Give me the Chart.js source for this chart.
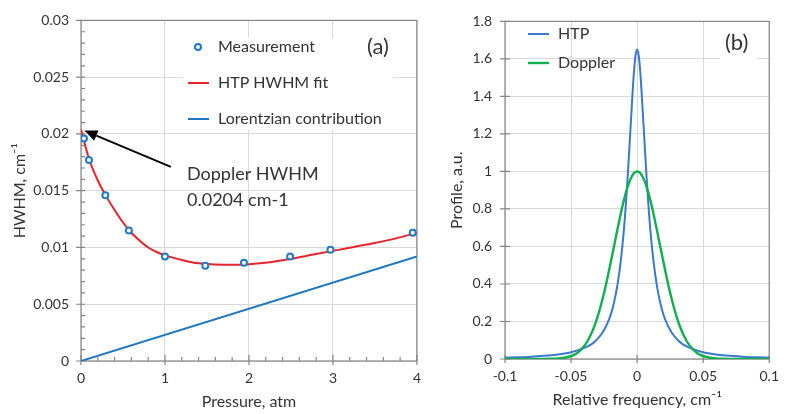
<!DOCTYPE html>
<html>
<head>
<meta charset="utf-8">
<script src="https://cdn.jsdelivr.net/npm/chart.js@4.4.1/dist/chart.umd.min.js"></script>
<style>
  html, body { margin: 0; padding: 0; background: #fff; }
  #wrap { position: relative; width: 788px; height: 414px; }
  canvas { position: absolute; top: 0; }
  #left { left: 0; }
  #right { left: 430px; }
</style>
</head>
<body>
<div id="wrap">
  <canvas id="left" width="430" height="414"></canvas>
  <canvas id="right" width="358" height="414"></canvas>
</div>
<script>
// panel (a): HWHM against pressure
const measPressure = [0.035, 0.095, 0.29, 0.57, 1.0, 1.48, 1.94, 2.49, 2.97, 3.95];
const measHwhm = [0.0196, 0.0177, 0.0146, 0.0115, 0.0092, 0.0084, 0.00865, 0.0092, 0.0098, 0.0113];
const fitPressure = [0, 0.05, 0.1, 0.2, 0.3, 0.4, 0.5, 0.6, 0.7, 0.8, 0.9, 1.0, 1.2, 1.4, 1.6, 1.8, 2.0, 2.25, 2.5, 2.75, 3.0, 3.25, 3.5, 3.75, 4.0];
const fitHwhm = [0.0204, 0.0190, 0.0177, 0.0159, 0.0145, 0.0133, 0.0122, 0.0113, 0.0106, 0.0100, 0.0096, 0.0093, 0.0089, 0.0086, 0.0085, 0.00848, 0.00853, 0.0087, 0.0090, 0.00935, 0.0097, 0.01005, 0.0104, 0.0108, 0.0113];
const lorPressure = [0, 4];
const lorHwhm = [0, 0.0092];
const pressureTicks = [0, 1, 2, 3, 4];
const hwhmTicks = [0, 0.005, 0.01, 0.015, 0.02, 0.025, 0.03];

// panel (b): line profiles
const freqX = [-0.1, -0.09, -0.08, -0.07, -0.065, -0.06, -0.055, -0.05, -0.0475, -0.045, -0.0425, -0.04, -0.0375, -0.035, -0.0325, -0.03, -0.0275, -0.025, -0.0225, -0.02, -0.0175, -0.015, -0.0125, -0.01, -0.0075, -0.005, -0.0025, -0.00125,
  0, 0.00125, 0.0025, 0.005, 0.0075, 0.01, 0.0125, 0.015, 0.0175, 0.02, 0.0225, 0.025, 0.0275, 0.03, 0.0325, 0.035, 0.0375, 0.04, 0.0425, 0.045, 0.0475, 0.05, 0.055, 0.06, 0.065, 0.07, 0.08, 0.09, 0.1];
const htpProfile = [0.007, 0.009, 0.012, 0.017, 0.020, 0.024, 0.029, 0.036, 0.041, 0.046, 0.052, 0.059, 0.067, 0.077, 0.090, 0.107, 0.128, 0.155, 0.19, 0.235, 0.30, 0.39, 0.515, 0.69, 0.93, 1.23, 1.52, 1.615,
  1.65, 1.615, 1.52, 1.23, 0.93, 0.69, 0.515, 0.39, 0.30, 0.235, 0.19, 0.155, 0.128, 0.107, 0.090, 0.077, 0.067, 0.059, 0.052, 0.046, 0.041, 0.036, 0.029, 0.024, 0.020, 0.017, 0.012, 0.009, 0.007];
const dopplerProfile = [0, 0, 0, 0.0003, 0.001, 0.0025, 0.0065, 0.016, 0.023, 0.034, 0.050, 0.070, 0.096, 0.130, 0.172, 0.223, 0.284, 0.353, 0.431, 0.514, 0.600, 0.688, 0.771, 0.847, 0.911, 0.959, 0.990, 0.997,
  1.0, 0.997, 0.990, 0.959, 0.911, 0.847, 0.771, 0.688, 0.600, 0.514, 0.431, 0.353, 0.284, 0.223, 0.172, 0.130, 0.096, 0.070, 0.050, 0.034, 0.023, 0.016, 0.0065, 0.0025, 0.001, 0.0003, 0, 0, 0];
const freqTicks = [-0.1, -0.05, 0, 0.05, 0.1];
const profileTicks = [0, 0.2, 0.4, 0.6, 0.8, 1, 1.2, 1.4, 1.6, 1.8];

const FONT = 'Lato';
const TXT = '#333';
const fmt = v => String(+Number(v).toFixed(4));
const pts = (xs, ys) => xs.map((x, i) => ({x: x, y: ys[i]}));

// frame, tick marks, legend and annotations
const decor = {
  id: 'decor',
  beforeDatasetsDraw(chart, args, o) {
    const {ctx, chartArea: a, scales: {x, y}} = chart;
    ctx.save();
    ctx.fillStyle = '#fff';
    (o.boxes || []).forEach(b => ctx.fillRect(b[0], b[1], b[2], b[3]));
    ctx.strokeStyle = '#868686';
    ctx.lineWidth = 1.2;
    ctx.strokeRect(a.left, a.top, a.right - a.left, a.bottom - a.top);
    ctx.beginPath();
    y.ticks.forEach(t => {
      const p = y.getPixelForValue(t.value);
      ctx.moveTo(a.left - o.yOut, p); ctx.lineTo(a.left + o.yIn, p);
    });
    x.ticks.forEach(t => {
      const p = x.getPixelForValue(t.value);
      ctx.moveTo(p, a.bottom + o.xOut); ctx.lineTo(p, a.bottom - o.xIn);
    });
    if (o.yMinor) {
      const n = Math.round((y.max - y.min) / o.yMinor);
      for (let i = 1; i < n; i++) {
        const p = y.getPixelForValue(y.min + i * o.yMinor);
        ctx.moveTo(a.left, p); ctx.lineTo(a.left + 4, p);
      }
    }
    if (o.xMinor) {
      const n = Math.round((x.max - x.min) / o.xMinor);
      for (let i = 1; i < n; i++) {
        const p = x.getPixelForValue(x.min + i * o.xMinor);
        ctx.moveTo(p, a.bottom); ctx.lineTo(p, a.bottom - 4);
      }
    }
    ctx.stroke();
    ctx.restore();
  },
  afterDatasetsDraw(chart, args, o) {
    const {ctx, scales: {x, y}} = chart;
    ctx.save();
    ctx.textBaseline = 'middle';
    ctx.textAlign = 'left';
    // legend
    (o.legend || []).forEach(item => {
      const ds = chart.data.datasets[item.i];
      if (ds.showLine === false) {
        ctx.beginPath();
        ctx.arc(item.x + 10, item.y, ds.pointRadius, 0, Math.PI * 2);
        ctx.fillStyle = '#fff';
        ctx.fill();
        ctx.lineWidth = ds.pointBorderWidth;
        ctx.strokeStyle = ds.pointBorderColor;
        ctx.stroke();
      } else {
        ctx.beginPath();
        ctx.moveTo(item.x, item.y); ctx.lineTo(item.x + 21, item.y);
        ctx.lineWidth = ds.borderWidth;
        ctx.strokeStyle = ds.borderColor;
        ctx.stroke();
      }
      ctx.fillStyle = TXT;
      ctx.font = '16px ' + FONT;
      ctx.fillText(ds.label, item.x + 30, item.y);
    });
    // free texts
    (o.texts || []).forEach(t => {
      ctx.fillStyle = TXT;
      ctx.font = t.size + 'px ' + FONT;
      ctx.fillText(t.text, t.x, t.y);
    });
    // arrow, given in data units
    if (o.arrow) {
      const x0 = x.getPixelForValue(o.arrow.from[0]), y0 = y.getPixelForValue(o.arrow.from[1]);
      const x1 = x.getPixelForValue(o.arrow.to[0]), y1 = y.getPixelForValue(o.arrow.to[1]);
      const ang = Math.atan2(y1 - y0, x1 - x0);
      const hl = 13, hw = 5.5;
      const bx = x1 - hl * Math.cos(ang), by = y1 - hl * Math.sin(ang);
      ctx.strokeStyle = '#000';
      ctx.fillStyle = '#000';
      ctx.lineWidth = 1.8;
      ctx.beginPath();
      ctx.moveTo(x0, y0); ctx.lineTo(bx, by);
      ctx.stroke();
      ctx.beginPath();
      ctx.moveTo(x1, y1);
      ctx.lineTo(bx + hw * Math.sin(ang), by - hw * Math.cos(ang));
      ctx.lineTo(bx - hw * Math.sin(ang), by + hw * Math.cos(ang));
      ctx.closePath();
      ctx.fill();
    }
    ctx.restore();
  }
};

function axis(min, max, ticks, title, size, titlePad, tickPad, isY) {
  return {
    type: 'linear',
    min: min,
    max: max,
    afterBuildTicks: s => { s.ticks = ticks.map(v => ({value: v})); },
    afterFit: s => { if (isY) s.width = size; else s.height = size; },
    grid: { color: '#d9d9d9', lineWidth: 1, drawTicks: false },
    border: { display: false },
    ticks: { callback: fmt, padding: tickPad, color: TXT, font: { family: FONT, size: 14 }, maxRotation: 0, autoSkip: false },
    title: { display: true, text: title, color: TXT, font: { family: FONT, size: 16 }, padding: titlePad }
  };
}

new Chart(document.getElementById('left'), {
  type: 'scatter',
  data: {
    datasets: [
      { label: 'Measurement', data: pts(measPressure, measHwhm), showLine: false,
        pointRadius: 3, pointBorderWidth: 2, pointBorderColor: '#1f7ac8', pointBackgroundColor: '#fff' },
      { label: 'HTP HWHM fit', data: pts(fitPressure, fitHwhm), showLine: true, borderColor: '#e8232a',
        borderWidth: 2, pointRadius: 0, cubicInterpolationMode: 'monotone' },
      { label: 'Lorentzian contribution', data: pts(lorPressure, lorHwhm), showLine: true, borderColor: '#1c78c0',
        borderWidth: 2, pointRadius: 0 }
    ]
  },
  options: {
    responsive: false,
    animation: false,
    layout: { padding: { top: 19, right: 13, left: 0, bottom: 0 } },
    scales: {
      x: axis(0, 4, pressureTicks, 'Pressure, atm', 53, { top: 0, bottom: 3 }, 9, false),
      y: axis(0, 0.03, hwhmTicks, 'HWHM, cm\u207B\u00B9', 81, { top: 10, bottom: 0 }, 12, true)
    },
    plugins: {
      legend: { display: false },
      tooltip: { enabled: false },
      decor: {
        yOut: 5, yIn: 0, xOut: 4, xIn: 6, yMinor: 0.001, xMinor: 0.2,
        boxes: [[183, 38, 210, 92]],
        legend: [{ i: 0, x: 188, y: 47 }, { i: 1, x: 188, y: 83 }, { i: 2, x: 188, y: 119 }],
        texts: [
          { text: '(a)', x: 367, y: 47, size: 22 },
          { text: 'Doppler HWHM', x: 187, y: 174, size: 18 },
          { text: '0.0204 cm-1', x: 187, y: 200, size: 18 }
        ],
        arrow: { from: [1.07, 0.0171], to: [0.04, 0.0203] }
      }
    }
  },
  plugins: [decor]
});

new Chart(document.getElementById('right'), {
  type: 'scatter',
  data: {
    datasets: [
      { label: 'HTP', data: pts(freqX, htpProfile), showLine: true, borderColor: '#3b78d0',
        borderWidth: 2, pointRadius: 0, cubicInterpolationMode: 'monotone', order: 2 },
      { label: 'Doppler', data: pts(freqX, dopplerProfile), showLine: true, borderColor: '#0fb050',
        borderWidth: 2.4, pointRadius: 0, cubicInterpolationMode: 'monotone', order: 1 }
    ]
  },
  options: {
    responsive: false,
    animation: false,
    layout: { padding: { top: 16, right: 18, left: 0, bottom: 0 } },
    scales: {
      x: axis(-0.1, 0.1, freqTicks, 'Relative frequency, cm\u207B\u00B9', 55, { top: 0, bottom: 5 }, 9, false),
      y: axis(0, 1.8, profileTicks, 'Profile, a.u.', 75, { top: 17, bottom: 0 }, 13, true)
    },
    plugins: {
      legend: { display: false },
      tooltip: { enabled: false },
      decor: {
        yOut: 5, yIn: 5, xOut: 4, xIn: 4,
        boxes: [[290, 26, 37, 34]],
        legend: [{ i: 0, x: 98, y: 34 }, { i: 1, x: 98, y: 63 }],
        texts: [{ text: '(b)', x: 295, y: 43, size: 22 }]
      }
    }
  },
  plugins: [decor]
});
</script>
</body>
</html>
